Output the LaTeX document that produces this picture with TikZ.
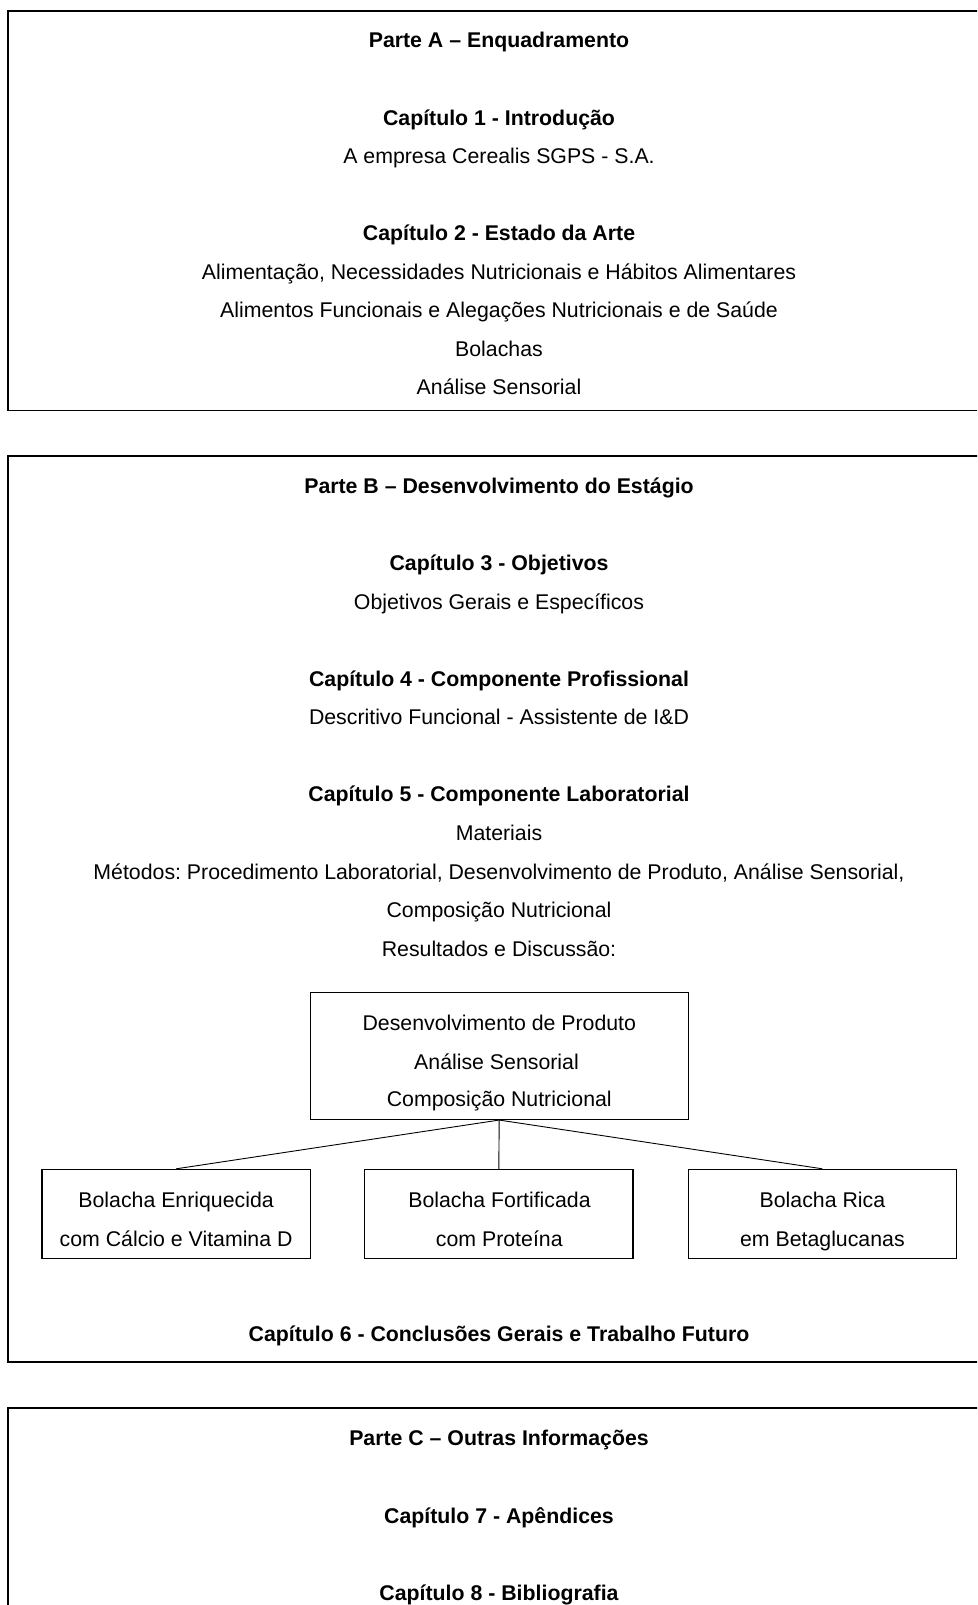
\documentclass[tikz,border=0pt]{standalone}
\usepackage{fontspec}
\setmainfont{Liberation Sans}
\frenchspacing
\begin{document}
\begin{tikzpicture}[x=1pt,y=-1pt,
  txt/.style={anchor=base,inner sep=0pt,font=\fontsize{21.3}{38.4}\selectfont},
  bt/.style={txt,font=\fontsize{21.3}{38.4}\selectfont\bfseries},
  outer/.style={line width=1.6pt,draw=black},
  mbox/.style={draw=black,line width=1.3pt,minimum width=378pt,minimum height=127pt,inner sep=0pt},
  cbox/.style={draw=black,line width=1.3pt,minimum width=268.3pt,minimum height=89.1pt,inner sep=0pt},
  conn/.style={line width=0.9pt}]
\useasboundingbox (0,0) rectangle (977,1605);
\clip (0,0) rectangle (977,1605);
% outer frames
\draw[outer] (8,11) rectangle (1000,410.6);
\draw[outer] (8,456) rectangle (1000,1362);
\draw[outer] (8,1407.7) rectangle (1000,1700);
% Part A
\node[bt] (pa) at (499,48) {Parte A – Enquadramento};
\node[bt] (c1) at (499,125.8) {Capítulo 1 - Introdução};
\node[txt] (a1) at (499,163.7) {A empresa Cerealis SGPS - S.A.};
\node[bt] (c2) at (499,240.5) {Capítulo 2 - Estado da Arte};
\node[txt] (a2) at (499,279.4) {Alimentação, Necessidades Nutricionais e Hábitos Alimentares};
\node[txt] (a3) at (499,317.3) {Alimentos Funcionais e Alegações Nutricionais e de Saúde};
\node[txt] (a4) at (499,356.2) {Bolachas};
\node[txt] (a5) at (499,394.1) {Análise Sensorial};
% Part B
\node[bt] (pb) at (499,493.4) {Parte B – Desenvolvimento do Estágio};
\node[bt] (c3) at (499,570.2) {Capítulo 3 - Objetivos};
\node[txt] (b1) at (499,609.2) {Objetivos Gerais e Específicos};
\node[bt] (c4) at (499,686) {Capítulo 4 - Componente Profissional};
\node[txt] (b2) at (499,724.9) {Descritivo Funcional - Assistente de I\&D};
\node[bt] (c5) at (499,801.7) {Capítulo 5 - Componente Laboratorial};
\node[txt] (b3) at (499,840.6) {Materiais};
\node[txt] (b4) at (499,879.5) {Métodos: Procedimento Laboratorial, Desenvolvimento de Produto, Análise Sensorial,};
\node[txt] (b5) at (499,917.4) {Composição Nutricional};
\node[txt] (b6) at (499,956.3) {Resultados e Discussão:};
% results box
\node[mbox] (res) at (499.2,1055.9) {};
\node[txt] (r1) at (499.3,1030) {Desenvolvimento de Produto};
\node[txt] (r2) at (496.5,1069) {Análise Sensorial};
\node[txt] (r3) at (499.3,1106.9) {Composição Nutricional};
% child boxes
\node[cbox] (k1) at (176.2,1214) {};
\node[cbox] (k2) at (498.8,1214) {};
\node[cbox] (k3) at (822.4,1214) {};
\node[txt] (k1a) at (176.1,1207.2) {Bolacha Enriquecida};
\node[txt] (k1b) at (176.1,1246.2) {com Cálcio e Vitamina D};
\node[txt] (k2a) at (499.5,1207.2) {Bolacha Fortificada};
\node[txt] (k2b) at (499.3,1246.2) {com Proteína};
\node[txt] (k3a) at (822.4,1207.2) {Bolacha Rica};
\node[txt] (k3b) at (822.4,1246.2) {em Betaglucanas};
\draw[conn] (res.south) -- (k1.north);
\draw[conn] (res.south) -- (k2.north);
\draw[conn] (res.south) -- (k3.north);
\node[bt] (c6) at (499,1341.4) {Capítulo 6 - Conclusões Gerais e Trabalho Futuro};
% Part C
\node[bt] (pc) at (499,1445.8) {Parte C – Outras Informações};
\node[bt] (c7) at (499,1523.7) {Capítulo 7 - Apêndices};
\node[bt] (c8) at (499,1600.5) {Capítulo 8 - Bibliografia};
\end{tikzpicture}
\end{document}
